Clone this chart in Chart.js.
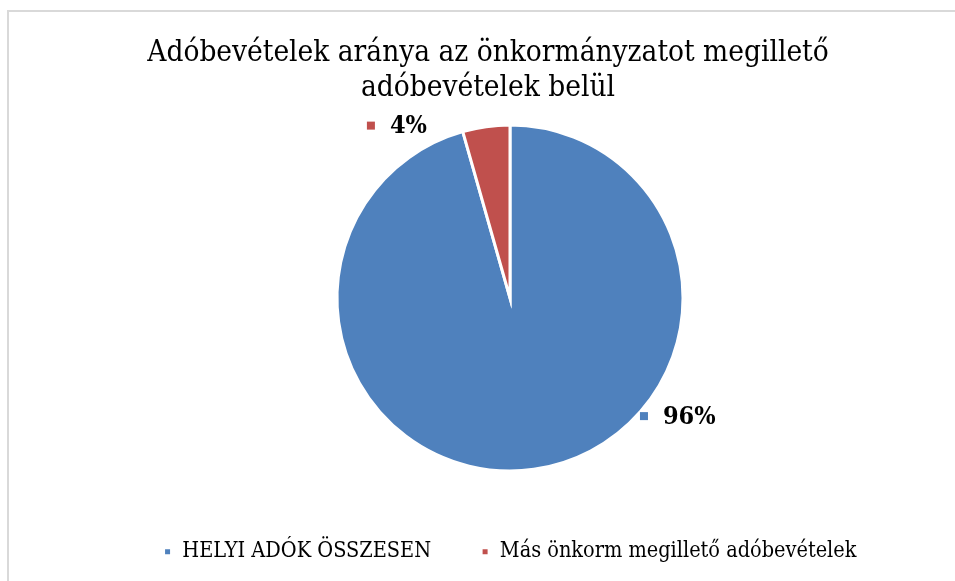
<!DOCTYPE html>
<html>
<head>
<meta charset="utf-8">
<title>Adóbevételek aránya</title>
<script src="https://cdn.jsdelivr.net/npm/chart.js@4.4.0/dist/chart.umd.min.js"></script>
<style>
    html, body { margin: 0; padding: 0; background: #fff; overflow: hidden; }
    #frame {
        position: absolute; left: 7px; top: 10px; width: 1000px; height: 1000px;
        border-left: 2px solid #d9d9d9; border-top: 2px solid #d9d9d9;
    }
    #title {
        position: absolute; left: 0; top: 34px; width: 976px;
        text-align: center; color: #000;
        font: 29.5px/35px "DejaVu Serif Condensed", "DejaVu Serif", serif;
    }
    #wrap { position: absolute; left: 0; top: 0; width: 955px; height: 581px; }
</style>
</head>
<body>
<div id="frame"></div>
<div id="wrap"><canvas id="pieChart"></canvas></div>
<div id="title">Adóbevételek aránya az önkormányzatot megillető<br>adóbevételek belül</div>
<script>
// Chart data
const categories = ['HELYI ADÓK ÖSSZESEN', 'Más önkorm megillető adóbevételek'];
const shares = [95.6, 4.4];
const sliceColors = ['#4f81bd', '#c0504d'];

const serif = '"DejaVu Serif Condensed", "DejaVu Serif", serif';

/**
 * Percentage labels with a small colour key, placed outside the pie
 */
const pieLabels = {
    id: 'pieLabels',
    afterDatasetsDraw(chart, args, opts) {
        const ctx = chart.ctx;
        const meta = chart.getDatasetMeta(0);
        const values = chart.data.datasets[0].data;
        const total = values.reduce((a, b) => a + b, 0);

        meta.data.forEach((arc, i) => {
            const pos = opts.positions[i];
            const a = pos.angle * Math.PI / 180;
            const r = arc.outerRadius + pos.gap;
            const x = arc.x + Math.cos(a) * r;
            const y = arc.y + Math.sin(a) * r;

            ctx.save();
            ctx.fillStyle = sliceColors[i];
            ctx.fillRect(x - 4, y - 4, 8, 8);
            ctx.fillStyle = '#000';
            ctx.font = opts.font;
            ctx.textBaseline = 'middle';
            ctx.fillText(Math.round(values[i] / total * 100) + '%', x + 19, y + 1);
            ctx.restore();
        });
    }
};

new Chart(document.getElementById('pieChart'), {
    type: 'pie',
    data: {
        labels: categories,
        datasets: [{
            data: shares,
            backgroundColor: sliceColors,
            borderColor: '#ffffff',
            borderWidth: 3,
            borderJoinStyle: 'miter',
            radius: 173
        }]
    },
    options: {
        responsive: true,
        maintainAspectRatio: false,
        animation: false,
        layout: {
            padding: { top: 105, left: 65, right: 0, bottom: 8.5 }
        },
        plugins: {
            title: { display: false },
            tooltip: { enabled: false },
            legend: {
                position: 'bottom',
                labels: {
                    color: '#000',
                    font: { family: serif, size: 21.5 },
                    boxWidth: 8,
                    boxHeight: 8,
                    padding: 50
                }
            },
            pieLabels: {
                font: 'bold 25px ' + serif,
                positions: [
                    { angle: 41.4, gap: 5.6 },
                    { angle: -128.9, gap: 48.5 }
                ]
            }
        }
    },
    plugins: [pieLabels]
});
</script>
</body>
</html>
